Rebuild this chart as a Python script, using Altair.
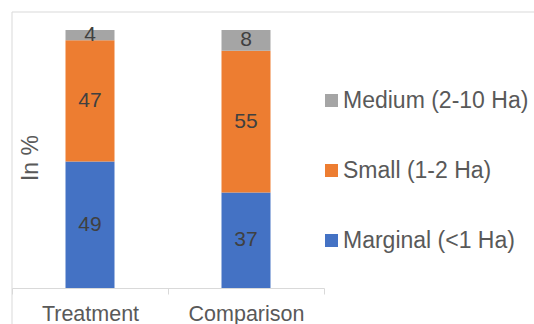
import altair as alt
import pandas as pd

categories = ["Treatment", "Comparison"]
series = ["Marginal (<1 Ha)", "Small (1-2 Ha)", "Medium (2-10 Ha)"]
marginal = [49, 37]
small = [47, 55]
medium = [4, 8]

colors = ["#A5A5A5", "#ED7D31", "#4472C4"]  # Medium, Small, Marginal
legend_order = ["Medium (2-10 Ha)", "Small (1-2 Ha)", "Marginal (<1 Ha)"]

rows = []
for i, c in enumerate(categories):
    for k, (s, vals) in enumerate(zip(series, [marginal, small, medium])):
        rows.append({"cat": c, "series": s, "value": vals[i], "order": k})
df = pd.DataFrame(rows)

FONT = "Liberation Sans"
GRAY_TXT = "#595959"
LINE = "#D9D9D9"

base = alt.Chart(df).transform_stack(
    stack="value", groupby=["cat"], as_=["y0", "y1"],
    sort=[alt.SortField("order", order="ascending")]
).transform_calculate(mid="(datum.y0 + datum.y1) / 2")

x_enc = alt.X(
    "cat:N", sort=categories, title=None,
    scale=alt.Scale(paddingInner=0, paddingOuter=0),
    axis=alt.Axis(labelAngle=0, tickBand="extent", domainColor=LINE, tickColor=LINE,
                  tickSize=6, labelFontSize=21.5, labelColor=GRAY_TXT, labelFont=FONT,
                  labelPadding=9),
)

bars = base.mark_bar(size=49).encode(
    x=x_enc,
    y=alt.Y("y0:Q", scale=alt.Scale(domain=[0, 100]), axis=None),
    y2="y1:Q",
    color=alt.Color(
        "series:N",
        scale=alt.Scale(domain=legend_order, range=colors),
        legend=alt.Legend(
            title=None, orient="none", legendX=308, legendY=59, padding=0,
            symbolType="square", symbolSize=169, symbolStrokeWidth=0,
            labelFontSize=23, labelFont=FONT, labelColor=GRAY_TXT,
            labelOffset=0, rowPadding=46, labelLimit=0,
        ),
    ),
)

labels = base.mark_text(fontSize=21, font=FONT, color="#404040").encode(
    x=alt.X("cat:N", sort=categories),
    y=alt.Y("mid:Q"),
    text=alt.Text("value:Q"),
)

ytitle = alt.Chart(pd.DataFrame({"t": ["In %"]})).mark_text(
    angle=270, fontSize=23, font=FONT, color=GRAY_TXT, align="center", baseline="middle"
).encode(x=alt.value(19), y=alt.value(128), text="t:N")

frame_left = alt.Chart(pd.DataFrame({"a": [0]})).mark_rule(color=LINE, strokeWidth=1).encode(
    x=alt.value(0), y=alt.value(-18), y2=alt.value(300)
)
frame_top = alt.Chart(pd.DataFrame({"a": [0]})).mark_rule(color=LINE, strokeWidth=1).encode(
    x=alt.value(0), x2=alt.value(530), y=alt.value(-18)
)

chart = alt.layer(frame_left, frame_top, bars, labels, ytitle).properties(
    width=312, height=258,
    autosize=alt.AutoSizeParams(type="none"),
    padding={"left": 12, "top": 30, "right": 210, "bottom": 36},
).configure_view(stroke=None)

chart.save("out.html", embed_options={"renderer": "svg", "actions": False})
